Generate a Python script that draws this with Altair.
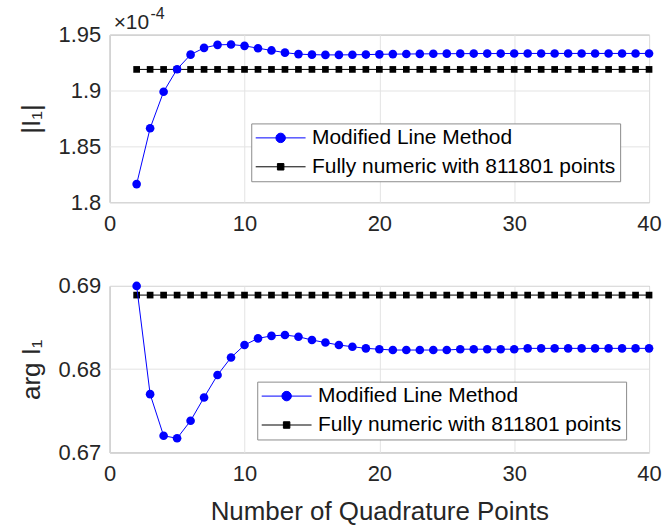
import altair as alt
import pandas as pd

# ---------------- data ----------------
quad_points = list(range(2, 41))
mag_mlm = [1.8162, 1.8662, 1.8989, 1.9191, 1.9321, 1.9382, 1.9409, 1.9412, 1.9400,
           1.9379, 1.9359, 1.9339, 1.9326, 1.9321, 1.9319, 1.9319, 1.9320, 1.9322,
           1.9324, 1.9326, 1.9327, 1.9328, 1.9329, 1.9330, 1.9330, 1.9331, 1.9331,
           1.9331, 1.9332, 1.9332, 1.9332, 1.9332, 1.9332, 1.9332, 1.9332, 1.9332,
           1.9332, 1.9332, 1.9332]
mag_ref = 1.9189
arg_mlm = [0.6900, 0.6770, 0.6720, 0.6717, 0.6738, 0.6766, 0.6793, 0.6814, 0.6829,
           0.6837, 0.6840, 0.6841, 0.6839, 0.6835, 0.6832, 0.6829, 0.6827, 0.6825,
           0.6824, 0.6823, 0.6823, 0.6823, 0.6823, 0.6823, 0.6824, 0.6824, 0.6824,
           0.6824, 0.6824, 0.6825, 0.6825, 0.6825, 0.6825, 0.6825, 0.6825, 0.6825,
           0.6825, 0.6825, 0.6825]
arg_ref = 0.6889
series_names = ["Modified Line Method", "Fully numeric with 811801 points"]
x_ticks = [0, 10, 20, 30, 40]
mag_ticks = [1.8, 1.85, 1.9, 1.95]
arg_ticks = [0.67, 0.68, 0.69]

FONT = "Liberation Sans"
BLUE = "#0000ff"
BOX = "#8c8c8c"

# legend glyphs: short line with centred marker (symbol unit = 10 px)
circ_path = "M-1,0L4,0M1.975,0A0.475,0.475,0,1,1,1.025,0A0.475,0.475,0,1,1,1.975,0Z"
sq_path = "M-1,0L4,0M1.175,-0.325L1.825,-0.325L1.825,0.325L1.175,0.325Z"


def panel(mlm, ref, ydomain, yticks, yfmt, ytitle, xtitle, legx, legy, extra=None):
    df = pd.DataFrame({"n": quad_points, "mlm": mlm, "ref": [ref] * len(quad_points)})
    xaxis = dict(values=x_ticks, labelPadding=11, labelFlush=False, titlePadding=14)
    xaxis["title"] = xtitle if xtitle else None
    x = alt.X("n:Q", scale=alt.Scale(domain=[0, 40], nice=False), axis=alt.Axis(**xaxis))
    yscale = alt.Scale(domain=ydomain, nice=False, zero=False)
    yaxis = alt.Axis(values=yticks, format=yfmt, title=ytitle, labelPadding=9, titlePadding=14)
    base = alt.Chart(df)
    ref_line = base.mark_line(color="black", strokeWidth=1).encode(
        x=x, y=alt.Y("ref:Q", scale=yscale, axis=yaxis))
    ref_pts = base.mark_point(filled=True, shape="square", size=45, color="black", opacity=1).encode(
        x=x, y=alt.Y("ref:Q", scale=yscale))
    mlm_line = base.mark_line(color=BLUE, strokeWidth=1).encode(
        x=x, y=alt.Y("mlm:Q", scale=yscale))
    mlm_pts = base.mark_point(filled=True, shape="circle", size=75, color=BLUE, opacity=1).encode(
        x=x, y=alt.Y("mlm:Q", scale=yscale))

    leg_df = pd.DataFrame({"series": series_names})
    legend = alt.Legend(orient="none", legendX=legx, legendY=legy, title=None,
                        strokeColor=BOX, fillColor="white", padding=4,
                        labelFont=FONT, labelFontSize=21, labelColor="#000000",
                        labelLimit=500, symbolSize=400, symbolStrokeWidth=1,
                        rowPadding=7, labelOffset=36)
    fill_scale = alt.Scale(domain=series_names, range=[BLUE, "#000000"])
    leg_layer = alt.Chart(leg_df).transform_filter("false").mark_point(
        filled=True, opacity=1, strokeWidth=1).encode(
        fill=alt.Fill("series:N", scale=fill_scale, legend=legend),
        stroke=alt.Stroke("series:N", scale=fill_scale, legend=legend),
        shape=alt.Shape("series:N", scale=alt.Scale(domain=series_names, range=[circ_path, sq_path]),
                        legend=legend),
    )
    layers = [ref_line, ref_pts, mlm_line, mlm_pts, leg_layer]
    if extra:
        layers += extra
    return alt.layer(*layers).properties(width=541, height=168)


exp_main = alt.Chart(pd.DataFrame({"t": ["×10"]})).mark_text(
    font=FONT, fontSize=21, color="#262626", align="left", baseline="alphabetic").encode(
    text="t:N", x=alt.value(4), y=alt.value(-6))
exp_pow = alt.Chart(pd.DataFrame({"t": ["-4"]})).mark_text(
    font=FONT, fontSize=16, color="#262626", align="left", baseline="alphabetic").encode(
    text="t:N", x=alt.value(41), y=alt.value(-16))

top = panel(mag_mlm, mag_ref, [1.8, 1.95], mag_ticks, ".3~g", "|I₁|", None, 142, 89,
            extra=[exp_main, exp_pow])
bottom = panel(arg_mlm, arg_ref, [0.67, 0.69], arg_ticks, ".2f", "arg I₁",
               "Number of Quadrature Points", 148, 96).properties(height=167)

chart = alt.vconcat(top, bottom, spacing=39).resolve_scale(
    fill="independent", stroke="independent", shape="independent"
).resolve_legend(fill="independent", stroke="independent", shape="independent").properties(
    padding={"left": 17, "top": 4, "right": 0, "bottom": 0}, background="white"
).configure_view(stroke=BOX, strokeWidth=1).configure_axis(
    domain=False, ticks=False, grid=True, gridColor="#e3e3e3", gridWidth=1,
    labelFont=FONT, labelFontSize=22, labelColor="#262626",
    titleFont=FONT, titleFontSize=26, titleFontWeight="normal", titleColor="#262626",
)

chart.save("out.html", embed_options={"renderer": "svg", "actions": False})
